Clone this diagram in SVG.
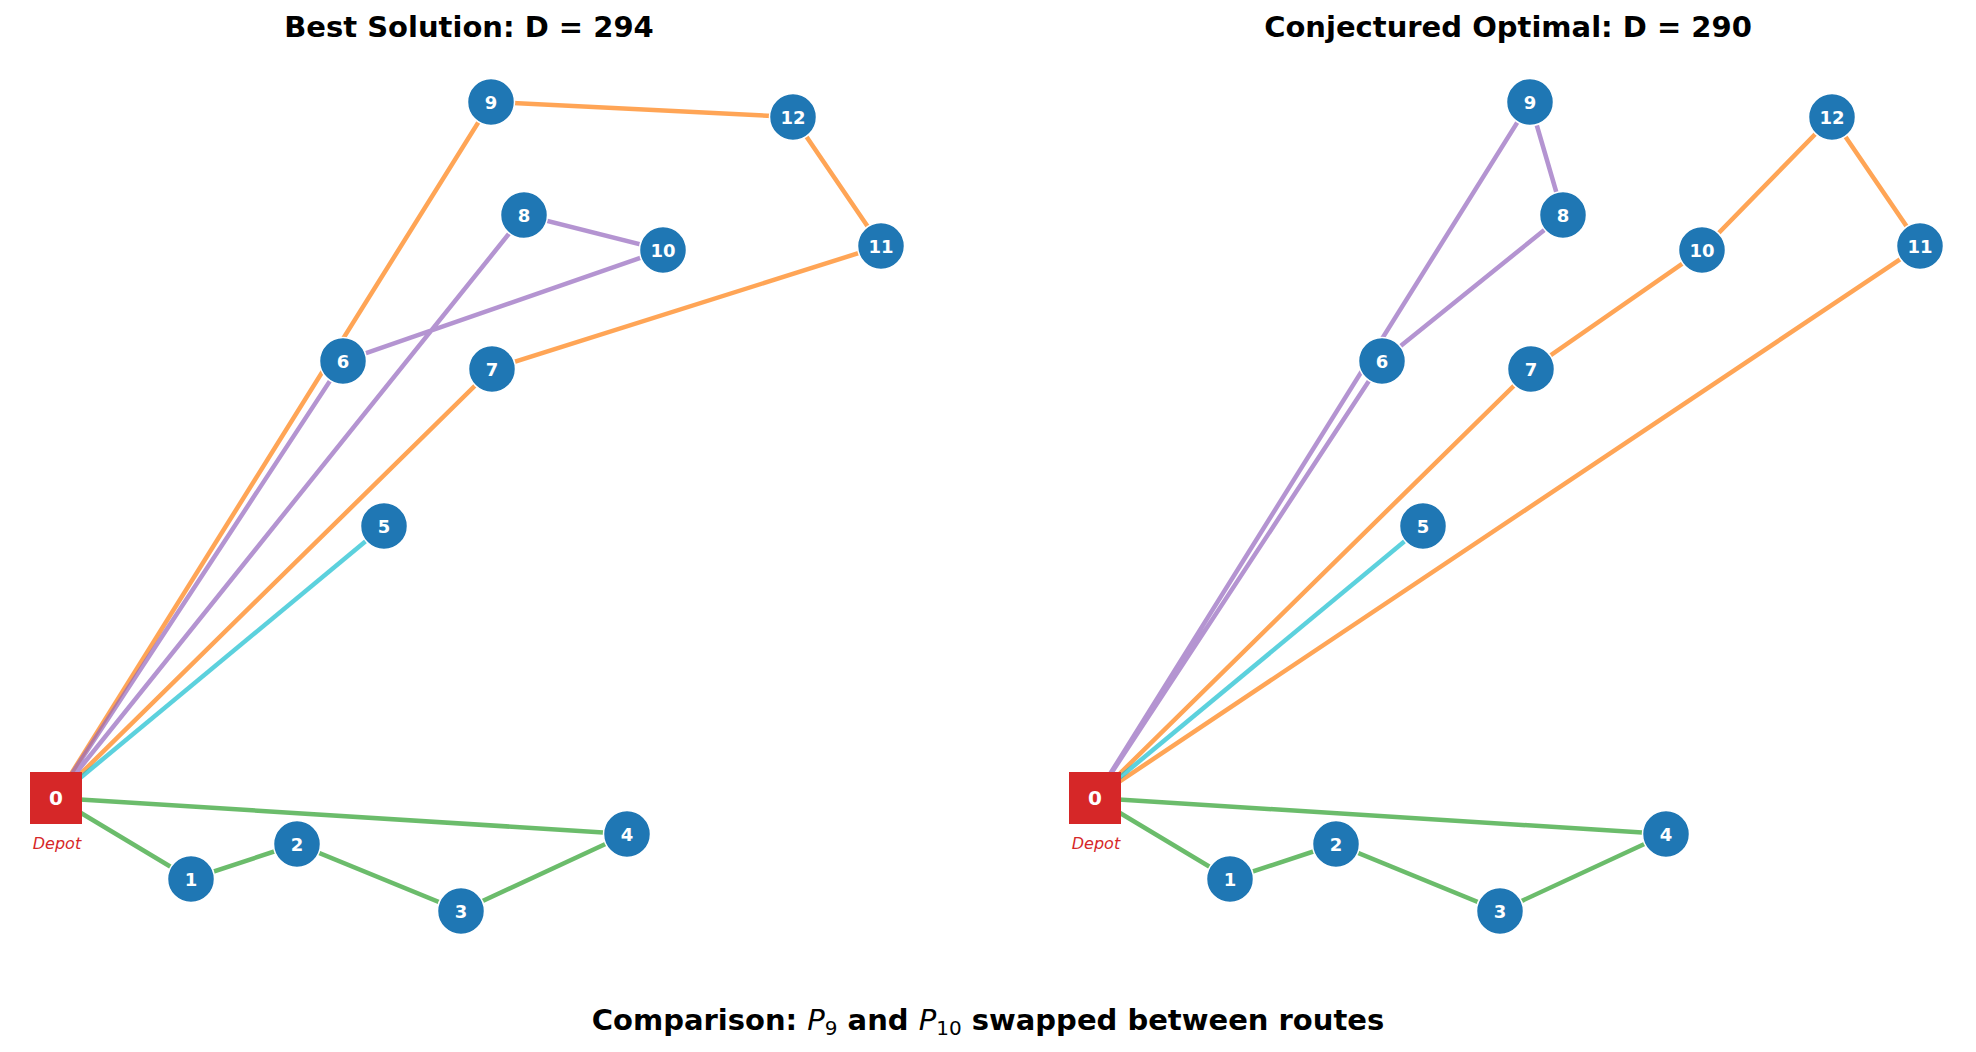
<svg xmlns="http://www.w3.org/2000/svg" width="1976" height="1052" viewBox="0 0 1976 1052">
<style>
.title{font-family:"DejaVu Sans",sans-serif;font-weight:bold;font-size:29px;fill:#000;text-anchor:middle}
.e{stroke-width:4.5;stroke-opacity:0.7;fill:none;stroke-linecap:butt}
.or{stroke:#ff7f0e}.pu{stroke:#9467bd}.gr{stroke:#2ca02c}.cy{stroke:#17becf}
.n circle{fill:#1f77b4;stroke:#fff;stroke-width:1.5}
.n text{font-family:"DejaVu Sans",sans-serif;font-weight:bold;font-size:18px;fill:#fff;text-anchor:middle;dominant-baseline:central}
.depot rect{fill:#d62728}
.depot text.lab{font-family:"DejaVu Sans",sans-serif;font-weight:bold;font-size:20px;fill:#fff;text-anchor:middle;dominant-baseline:central}
.depot text.dl{font-family:"DejaVu Sans",sans-serif;font-style:italic;font-size:16px;fill:#d62728;text-anchor:middle}
</style>
<rect width="1976" height="1052" fill="#fff"/>
<text class="title" x="469" y="37">Best Solution: D = 294</text>
<text class="title" x="1508" y="37">Conjectured Optimal: D = 290</text>

<g id="panel-left">
<g id="connectors-left">
<polyline class="e or" points="56,798 491,102 793,117 881,246 492,369 56,798"/>
<polyline class="e pu" points="56,798 343,361 663,250 524,215 56,798"/>
<polyline class="e cy" points="56,798 384,526"/>
<polyline class="e gr" points="56,798 191,879 297,844 461,911 627,834 56,798"/>
</g>
<g id="L-n0" class="depot"><rect x="30" y="772" width="52" height="52"/><text class="lab" x="56" y="798">0</text><text class="dl" x="57" y="849">Depot</text></g>
<g id="L-n1" class="n"><circle cx="191" cy="879" r="23.5"/><text x="191" y="879">1</text></g>
<g id="L-n2" class="n"><circle cx="297" cy="844" r="23.5"/><text x="297" y="844">2</text></g>
<g id="L-n3" class="n"><circle cx="461" cy="911" r="23.5"/><text x="461" y="911">3</text></g>
<g id="L-n4" class="n"><circle cx="627" cy="834" r="23.5"/><text x="627" y="834">4</text></g>
<g id="L-n5" class="n"><circle cx="384" cy="526" r="23.5"/><text x="384" y="526">5</text></g>
<g id="L-n6" class="n"><circle cx="343" cy="361" r="23.5"/><text x="343" y="361">6</text></g>
<g id="L-n7" class="n"><circle cx="492" cy="369" r="23.5"/><text x="492" y="369">7</text></g>
<g id="L-n8" class="n"><circle cx="524" cy="215" r="23.5"/><text x="524" y="215">8</text></g>
<g id="L-n9" class="n"><circle cx="491" cy="102" r="23.5"/><text x="491" y="102">9</text></g>
<g id="L-n10" class="n"><circle cx="663" cy="250" r="23.5"/><text x="663" y="250">10</text></g>
<g id="L-n11" class="n"><circle cx="881" cy="246" r="23.5"/><text x="881" y="246">11</text></g>
<g id="L-n12" class="n"><circle cx="793" cy="117" r="23.5"/><text x="793" y="117">12</text></g>
</g>

<g id="panel-right" transform="translate(1039,0)">
<g id="connectors-right">
<polyline class="e pu" points="56,798 491,102 524,215 343,361 56,798"/>
<polyline class="e or" points="56,798 492,369 663,250 793,117 881,246 56,798"/>
<polyline class="e cy" points="56,798 384,526"/>
<polyline class="e gr" points="56,798 191,879 297,844 461,911 627,834 56,798"/>
</g>
<g id="R-n0" class="depot"><rect x="30" y="772" width="52" height="52"/><text class="lab" x="56" y="798">0</text><text class="dl" x="57" y="849">Depot</text></g>
<g id="R-n1" class="n"><circle cx="191" cy="879" r="23.5"/><text x="191" y="879">1</text></g>
<g id="R-n2" class="n"><circle cx="297" cy="844" r="23.5"/><text x="297" y="844">2</text></g>
<g id="R-n3" class="n"><circle cx="461" cy="911" r="23.5"/><text x="461" y="911">3</text></g>
<g id="R-n4" class="n"><circle cx="627" cy="834" r="23.5"/><text x="627" y="834">4</text></g>
<g id="R-n5" class="n"><circle cx="384" cy="526" r="23.5"/><text x="384" y="526">5</text></g>
<g id="R-n6" class="n"><circle cx="343" cy="361" r="23.5"/><text x="343" y="361">6</text></g>
<g id="R-n7" class="n"><circle cx="492" cy="369" r="23.5"/><text x="492" y="369">7</text></g>
<g id="R-n8" class="n"><circle cx="524" cy="215" r="23.5"/><text x="524" y="215">8</text></g>
<g id="R-n9" class="n"><circle cx="491" cy="102" r="23.5"/><text x="491" y="102">9</text></g>
<g id="R-n10" class="n"><circle cx="663" cy="250" r="23.5"/><text x="663" y="250">10</text></g>
<g id="R-n11" class="n"><circle cx="881" cy="246" r="23.5"/><text x="881" y="246">11</text></g>
<g id="R-n12" class="n"><circle cx="793" cy="117" r="23.5"/><text x="793" y="117">12</text></g>
</g>

<text class="title" x="988" y="1030">Comparison: <tspan font-weight="normal" font-style="italic">P</tspan><tspan font-weight="normal" font-size="20px" dy="4.5">9</tspan><tspan dy="-4.5"> and </tspan><tspan font-weight="normal" font-style="italic">P</tspan><tspan font-weight="normal" font-size="20px" dy="4.5">10</tspan><tspan dy="-4.5"> swapped between routes</tspan></text>
</svg>
